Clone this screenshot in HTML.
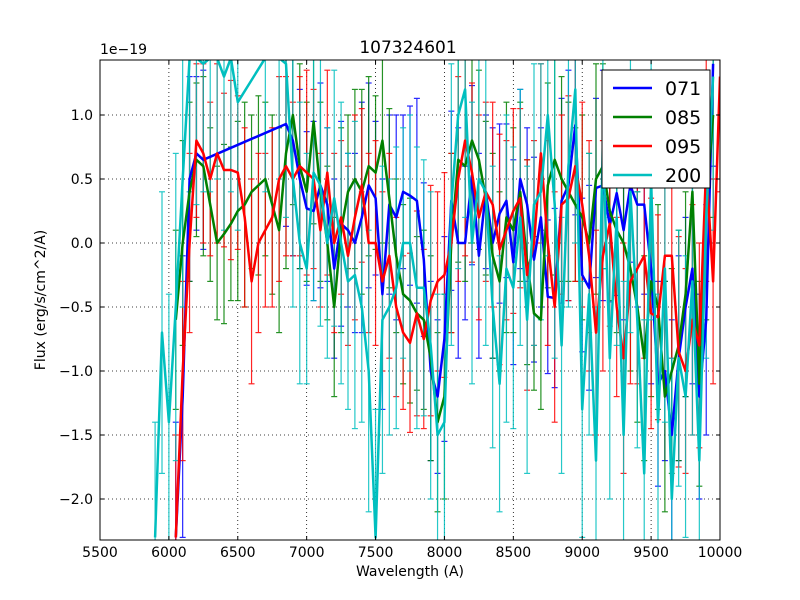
<!DOCTYPE html>
<html><head><meta charset="utf-8"><style>
html,body{margin:0;padding:0;background:#fff;overflow:hidden;width:800px;height:600px;}
svg{display:block;}
svg text{font-family:"DejaVu Sans","Liberation Sans",sans-serif;}
</style></head><body>
<svg id="chart" width="800" height="600" viewBox="0 0 800 600" xmlns="http://www.w3.org/2000/svg">
<rect width="800" height="600" fill="#fff"/>
<defs><clipPath id="plotclip"><rect x="100" y="60" width="620" height="480"/></clipPath></defs>
<g id="grid"></g>
<g id="series" clip-path="url(#plotclip)"></g>
<rect x="100" y="60" width="620" height="480" fill="none" stroke="#000" stroke-width="1"/>
<g id="ticks"></g>
<text x="408" y="53" font-size="17" text-anchor="middle">107324601</text>
<text x="100" y="54" font-size="14">1e−19</text>
<text x="410" y="576" font-size="14" text-anchor="middle">Wavelength (A)</text>
<text x="45" y="300" font-size="14" text-anchor="middle" transform="rotate(-90 45 300)">Flux (erg/s/cm^2/A)</text>
<g id="legend">
<rect x="602" y="70" width="108" height="118" fill="#fff" stroke="#000" stroke-width="1"/>
</g>
</svg>
<script>
const xTicks=[5500,6000,6500,7000,7500,8000,8500,9000,9500,10000];
const yTicks=[1.0,0.5,0.0,-0.5,-1.0,-1.5,-2.0];
const yTickLabels=["1.0","0.5","0.0","−0.5","−1.0","−1.5","−2.0"];
const seriesNames=["071","085","095","200"];
const seriesColors=["#0000ff","#008000","#ff0000","#00bfbf"];

const wl071=[6050,6100,6150,6200,6250,6850,6900,6950,7000,7050,7100,7150,7200,7250,7300,7350,7400,7450,7500,7550,7600,7650,7700,7750,7800,7850,7900,7950,8000,8050,8100,8150,8200,8250,8300,8350,8400,8450,8500,8550,8600,8650,8700,8750,8800,8850,8900,8950,9000,9050,9100,9150,9200,9250,9300,9350,9400,9450,9500,9550,9600,9650,9700,9750,9800,9850,9900,9950];
const flux071=[-2.3,-1.2,0.5,0.7,0.65,0.93,0.8,0.5,0.27,0.25,0.45,0.3,-0.2,0.15,0.1,0.0,0.2,0.45,0.35,-0.4,0.3,0.2,0.4,0.37,0.33,-0.13,-1.0,-1.2,-0.75,0.33,0.0,0.0,0.53,-0.1,0.4,0.0,0.23,0.33,-0.15,0.5,0.3,-0.13,0.2,-0.42,-0.43,0.33,0.45,0.92,-0.25,-0.35,0.43,0.45,0.14,0.39,0.1,0.45,0.3,0.3,-0.2,-1.1,-1.0,-1.5,-0.9,-0.5,-0.2,-1.2,-0.6,1.4];
const err071=[0.9,1.1,0.8,0.6,0.7,0.8,0.9,0.7,0.6,0.7,0.8,0.6,0.7,0.8,0.6,0.7,0.9,0.8,0.6,0.9,0.7,0.8,0.6,0.7,0.8,0.6,0.7,0.6,0.8,0.7,0.9,0.6,0.7,0.8,0.6,0.9,0.7,0.6,0.8,0.7,0.6,0.8,0.7,0.6,0.7,0.8,0.9,0.7,0.6,0.8,0.7,0.9,0.6,0.8,0.7,0.6,0.8,0.7,0.9,0.8,0.7,0.9,0.8,0.7,0.9,0.8,0.9,0.8];

const wl085=[6050,6100,6150,6200,6250,6300,6350,6400,6450,6500,6550,6600,6650,6700,6750,6800,6850,6900,6950,7000,7050,7100,7150,7200,7250,7300,7350,7400,7450,7500,7550,7600,7650,7700,7750,7800,7850,7900,7950,8000,8050,8100,8150,8200,8250,8300,8350,8400,8450,8500,8550,8600,8650,8700,8750,8800,8850,8900,8950,9000,9050,9100,9150,9200,9250,9300,9350,9400,9450,9500,9550,9600,9650,9700,9750,9800,9850,9900,9950];
const flux085=[-0.6,0.0,0.4,0.65,0.6,0.3,0.0,0.07,0.15,0.25,0.3,0.4,0.45,0.5,0.3,0.1,0.7,1.0,0.6,0.4,0.95,0.4,0.0,-0.5,0.1,0.4,0.5,0.4,0.6,0.55,0.8,0.35,-0.1,-0.4,-0.45,-0.55,-0.6,-0.9,-1.4,-1.2,0.0,0.65,0.6,0.8,0.65,0.35,-0.1,-0.3,0.2,0.1,0.4,-0.15,-0.55,-0.6,0.45,0.65,0.5,0.4,0.3,0.2,0.0,0.5,0.6,0.25,0.1,0.0,-0.2,-0.5,-0.9,-0.3,-0.5,-1.2,-1.0,-0.8,-0.4,0.4,-1.1,0.3,1.0];
const err085=[0.7,0.8,0.7,0.6,0.7,0.6,0.6,0.7,0.6,0.7,0.8,0.6,0.7,0.6,0.7,0.8,0.9,0.7,0.8,0.7,0.8,0.7,0.6,0.7,0.8,0.6,0.7,0.8,0.7,0.6,0.8,0.7,0.6,0.7,0.8,0.6,0.7,0.8,0.7,0.8,0.7,0.8,0.9,0.8,0.7,0.6,0.8,0.7,0.9,0.8,0.7,0.8,0.6,0.7,0.8,0.9,0.8,0.7,0.6,0.8,0.7,0.9,0.8,0.7,0.8,0.9,0.8,0.9,0.8,0.9,0.8,0.9,0.8,0.9,0.8,0.9,0.8,0.9,0.8];

const wl095=[6050,6100,6150,6200,6250,6300,6350,6400,6450,6500,6550,6600,6650,6700,6750,6800,6850,6900,6950,7000,7050,7100,7150,7200,7250,7300,7350,7400,7450,7500,7550,7600,7650,7700,7750,7800,7850,7900,7950,8000,8050,8100,8150,8200,8250,8300,8350,8400,8450,8500,8550,8600,8650,8700,8750,8800,8850,8900,8950,9000,9050,9100,9150,9200,9250,9300,9350,9400,9450,9500,9550,9600,9650,9700,9750,9800,9850,9900,9950,10000];
const flux095=[-2.3,-1.0,0.0,0.8,0.7,0.5,0.7,0.57,0.57,0.55,0.2,-0.3,0.0,0.1,0.2,0.5,0.6,0.5,0.6,0.55,0.5,0.1,0.55,0.0,0.2,-0.1,0.2,0.45,0.0,0.0,-0.3,-0.1,-0.5,-0.7,-0.78,-0.55,-0.75,-0.45,-0.3,-0.25,0.0,0.5,0.8,0.55,0.2,0.4,0.3,-0.05,0.1,0.25,0.35,-0.25,0.0,0.7,0.0,-0.5,0.3,0.35,0.6,0.3,-0.1,-0.7,-0.1,0.15,-0.5,-0.9,-0.3,-0.2,-0.1,-0.55,-0.58,-0.1,-0.1,-0.85,-1.0,-0.6,-0.8,0.6,-0.3,1.3];
const err095=[0.8,0.7,0.7,0.6,0.7,0.6,0.7,0.6,0.7,0.6,0.7,0.8,0.7,0.6,0.7,0.8,0.7,0.6,0.7,0.8,0.7,0.6,0.8,0.7,0.6,0.7,0.8,0.6,0.7,0.8,0.7,0.8,0.7,0.6,0.7,0.8,0.7,0.9,0.7,0.8,0.7,0.8,0.9,0.7,0.8,0.7,0.8,0.9,0.7,0.8,0.7,0.9,0.8,0.7,0.8,0.9,0.7,0.8,0.9,0.8,0.9,0.8,0.9,0.8,0.7,0.9,0.8,0.9,0.8,0.9,0.8,0.9,0.8,0.9,0.8,0.9,0.8,0.9,0.8,0.9];

const wl200=[5900,5950,6000,6050,6100,6150,6200,6250,6300,6350,6400,6450,6500,6700,6800,6850,6900,6950,7000,7050,7100,7150,7200,7250,7300,7350,7400,7450,7500,7550,7600,7650,7700,7750,7800,7850,7900,7950,8000,8050,8100,8150,8200,8250,8300,8350,8400,8450,8500,8550,8600,8650,8700,8750,8800,8850,8900,8950,9000,9050,9100,9150,9200,9250,9300,9350,9400,9450,9500,9550,9600,9650,9700,9750,9800,9850,9900,9950];
const flux200=[-2.3,-0.7,-1.4,-0.5,0.5,1.5,1.5,1.4,1.5,1.5,1.3,1.5,1.1,1.5,1.5,1.4,0.5,0.0,-0.2,0.55,0.45,-0.0,0.35,0.0,-0.3,-0.25,-0.5,-1.0,-2.3,-0.6,-0.5,-0.35,0.0,0.0,-0.35,-0.35,-0.8,-1.5,-1.4,0.3,1.0,1.2,0.0,0.5,0.4,-0.5,-1.1,-0.2,-0.35,0.2,-0.6,0.3,0.4,1.0,0.3,-0.8,0.6,1.2,-1.3,-0.4,-1.7,0.8,-0.9,0.2,-1.5,0.4,-0.6,-1.8,0.5,-1.4,-0.2,-2.0,-0.9,-1.2,-0.3,-1.7,0.2,1.3];
const err200=[0.9,1.1,1.0,1.2,1.0,1.1,1.2,1.0,1.1,1.0,1.2,1.1,1.0,1.1,1.0,1.2,1.0,1.1,0.9,1.0,1.1,0.9,1.0,1.1,1.0,1.2,0.9,1.1,1.0,1.2,1.0,1.1,0.9,1.0,1.1,1.0,1.2,1.1,1.0,1.1,1.2,1.0,1.1,1.0,1.2,1.1,1.0,1.2,1.1,1.0,1.2,1.1,1.0,1.1,1.2,1.0,1.1,1.2,1.0,1.1,1.2,1.0,1.1,1.0,1.2,1.1,1.0,1.2,1.1,1.0,1.2,1.1,1.0,1.1,1.2,1.0,1.1,1.2];

const X0=100,X1=720,Y0=60,Y1=540,XMIN=5500,XMAX=10000,YMIN=-2.3203,YMAX=1.4297;
function xs(w){return X0+(w-XMIN)/(XMAX-XMIN)*(X1-X0);}
function ys(v){return Y1-(v-YMIN)/(YMAX-YMIN)*(Y1-Y0);}
function clampY(y){return Math.max(Y0-2,Math.min(Y1+2,y));}
const NS="http://www.w3.org/2000/svg";
function mk(tag,attrs,parent){const e=document.createElementNS(NS,tag);for(const k in attrs)e.setAttribute(k,attrs[k]);parent.appendChild(e);return e;}

const grid=document.getElementById('grid'),ticks=document.getElementById('ticks');
xTicks.forEach((t,i)=>{const x=xs(t);
 const g=mk('line',{x1:x,x2:x,y1:Y0,y2:Y1,stroke:'#000','stroke-dasharray':'1,3','stroke-width':0.8},grid);
 
 mk('line',{x1:x,x2:x,y1:Y1,y2:Y1-4,stroke:'#000'},ticks);
 mk('line',{x1:x,x2:x,y1:Y0,y2:Y0+4,stroke:'#000'},ticks);
 const tx=mk('text',{x:x,y:Y1+17,'font-size':14,'text-anchor':'middle'},ticks);tx.textContent=t;
 });
yTicks.forEach((t,i)=>{const y=ys(t);
 const g=mk('line',{x1:X0,x2:X1,y1:y,y2:y,stroke:'#000','stroke-dasharray':'1,3','stroke-width':0.8},grid);
 
 mk('line',{x1:X0,x2:X0+4,y1:y,y2:y,stroke:'#000'},ticks);
 mk('line',{x1:X1,x2:X1-4,y1:y,y2:y,stroke:'#000'},ticks);
 const tx=mk('text',{x:X0-7,y:y+5,'font-size':14,'text-anchor':'end'},ticks);tx.textContent=yTickLabels[i];
 });

const sg=document.getElementById('series');
const allW=[wl071,wl085,wl095,wl200],allF=[flux071,flux085,flux095,flux200],allE=[err071,err085,err095,err200];
allW.forEach((W,si)=>{const F=allF[si],E=allE[si],c=seriesColors[si];const n=Math.min(W.length,F.length,E.length);
 const eg=mk('g',{stroke:c,'stroke-width':1.2,opacity:0.85},sg);
 
 let pts=[];
 for(let i=0;i<n;i++){const x=xs(W[i]),ytr=ys(F[i]+E[i]),ybr=ys(F[i]-E[i]);
  const yt=clampY(ytr),yb=clampY(ybr);
  mk('line',{x1:x,x2:x,y1:yt,y2:yb},eg);
  if(ytr>=Y0&&ytr<=Y1)mk('line',{x1:x-3,x2:x+3,y1:yt,y2:yt},eg);
  if(ybr>=Y0&&ybr<=Y1)mk('line',{x1:x-3,x2:x+3,y1:yb,y2:yb},eg);
  pts.push(x.toFixed(1)+','+clampY(ys(F[i])).toFixed(1));}
 const pl=mk('polyline',{points:pts.join(' '),fill:'none',stroke:c,'stroke-width':2.5,'stroke-linejoin':'round'},sg);
 });
sg.querySelectorAll('polyline').forEach(p=>sg.appendChild(p));

const lg=document.getElementById('legend');
seriesNames.forEach((nm,i)=>{const y=88+i*29;
 const e=mk('g',{},lg);
 
 mk('line',{x1:613,x2:652,y1:y,y2:y,stroke:seriesColors[i],'stroke-width':2.5},e);
 const t=mk('text',{x:665,y:y+7,'font-size':19},e);t.textContent=nm;});
</script>
</body></html>
